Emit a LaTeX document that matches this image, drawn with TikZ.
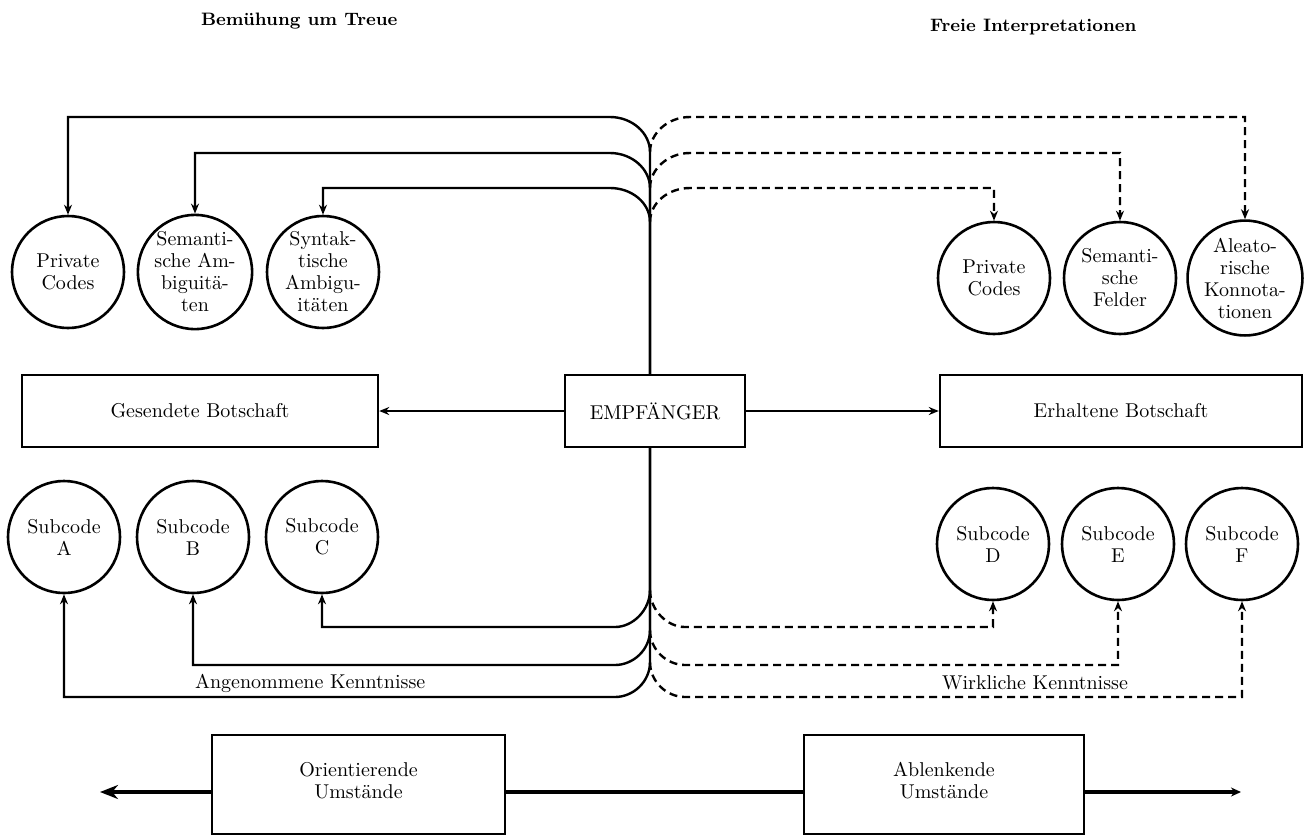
\documentclass[tikz,border=0pt]{standalone}
\usetikzlibrary{arrows.meta}
\begin{document}
\begin{tikzpicture}[x=0.5pt,y=-0.5pt,
  txt/.style={font=\fontsize{10}{11}\selectfont, align=center},
  circ/.style={circle, draw, line width=1.3pt, minimum size=56pt, inner sep=0pt, txt},
  boxn/.style={draw, line width=1.2pt, inner sep=0pt, txt},
  conn/.style={line width=1.2pt},
  dconn/.style={line width=1.2pt, dash pattern=on 4pt off 2.5pt},
  tip/.style={-{Stealth[length=5pt,width=4pt]}},
  thickline/.style={line width=2.2pt},
  title/.style={font=\fontsize{9}{10}\selectfont\bfseries, anchor=west}
]
\useasboundingbox (0,0) rectangle (1306,836);

% titles
\node[title] (t1) at (194,21) {Bemühung um Treue};
\node[title] (t2) at (923,27) {Freie Interpretationen};

% upper circles
\node[circ] (pcL) at (68,272) {Private\\Codes};
\node[circ] (semL) at (195,272) {Semanti-\\sche Am-\\biguitä-\\ten};
\node[circ] (synL) at (323,272) {Syntak-\\tische\\Ambigu-\\itäten};
\node[circ] (pcR) at (994,278) {Private\\Codes};
\node[circ] (semR) at (1120,278) {Semanti-\\sche\\Felder};
\node[circ] (alR) at (1245,278) {Aleato-\\rische\\Konnota-\\tionen};

% boxes
\node[boxn, minimum width=178pt, minimum height=36pt] (ges) at (200,411) {Gesendete Botschaft};
\node[boxn, minimum width=90pt, minimum height=36pt] (emp) at (655,411) {EMPFÄNGER};
\node[boxn, minimum width=181pt, minimum height=36pt] (erh) at (1121,411) {Erhaltene Botschaft};

% lower circles
\node[circ] (sA) at (64,537) {Subcode\\A};
\node[circ] (sB) at (193,537) {Subcode\\B};
\node[circ] (sC) at (322,537) {Subcode\\C};
\node[circ] (sD) at (993,544) {Subcode\\D};
\node[circ] (sE) at (1118,544) {Subcode\\E};
\node[circ] (sF) at (1242,544) {Subcode\\F};

% labels
\node[txt, anchor=west] (ak) at (188,683) {Angenommene Kenntnisse};
\node[txt, anchor=west] (wk) at (935,683) {Wirkliche Kenntnisse};

% bottom boxes
\node[boxn, minimum width=146.5pt, minimum height=49.5pt, text depth=4pt] (ori) at (358.5,784.5) {Orientierende\\Umstände};
\node[boxn, minimum width=140pt, minimum height=49.5pt, text depth=4pt] (abl) at (944,784.5) {Ablenkende\\Umstände};

% merge points
\coordinate (m1) at (650,152);
\coordinate (m2) at (650,188);
\coordinate (m3) at (650,222);
\coordinate (b1) at (650,590);
\coordinate (b2) at (650,630);
\coordinate (b3) at (650,662);

% top solid connectors
\draw[conn,tip] (m1 |- emp.north) -- (m1) .. controls (650,133) and (632,117) .. (610,117) -| (pcL.north);
\draw[conn,tip] (m2 |- emp.north) -- (m2) .. controls (650,169) and (632,153) .. (610,153) -| (semL.north);
\draw[conn,tip] (m3 |- emp.north) -- (m3) .. controls (650,203) and (632,188) .. (610,188) -| (synL.north);

% top dashed connectors
\draw[dconn,tip] (m1) .. controls (650,133) and (668,117) .. (690,117) -| (alR.north);
\draw[dconn,tip] (m2) .. controls (650,169) and (668,153) .. (690,153) -| (semR.north);
\draw[dconn,tip] (m3) .. controls (650,203) and (668,188) .. (690,188) -| (pcR.north);

% horizontal arrows
\draw[conn,tip] (emp.west) -- (ges.east);
\draw[conn,tip] (emp.east) -- (erh.west);

% bottom solid connectors
\draw[conn,tip] (b1 |- emp.south) -- (b1) .. controls (650,610) and (633,627) .. (615,627) -| (sC.south);
\draw[conn,tip] (b2 |- emp.south) -- (b2) .. controls (650,650) and (633,665) .. (615,665) -| (sB.south);
\draw[conn,tip] (b3 |- emp.south) -- (b3) .. controls (650,682) and (633,697) .. (615,697) -| (sA.south);

% bottom dashed connectors
\draw[dconn,tip] (b1) .. controls (650,610) and (667,627) .. (685,627) -| (sD.south);
\draw[dconn,tip] (b2) .. controls (650,650) and (667,665) .. (685,665) -| (sE.south);
\draw[dconn,tip] (b3) .. controls (650,682) and (667,697) .. (685,697) -| (sF.south);

% bottom thick line
\coordinate (L) at (100,792);
\coordinate (R) at (1241,792);
\draw[thickline,-{Stealth[length=9pt,width=7pt]}] (ori.west |- L) -- (L);
\draw[thickline] (ori.east |- L) -- (abl.west |- L);
\draw[thickline,-{Stealth[length=5pt,width=4.5pt]}] (abl.east |- L) -- (R);
\end{tikzpicture}
\end{document}
